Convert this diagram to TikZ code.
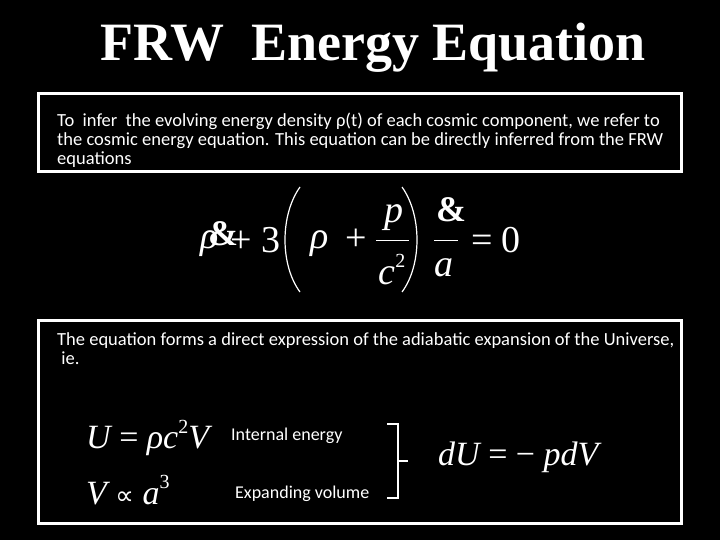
\documentclass[tikz,border=0pt]{standalone}
\usepackage{fontspec}
\setmainfont{Carlito}
\newfontfamily\tfont{Liberation Serif}
\newfontfamily\symfont{DejaVu Sans}
\newfontfamily\titlefont{Liberation Serif}
\newcommand{\sups}[1]{\raisebox{0.45em}{\fontsize{20}{20}\selectfont\upshape #1}}
\begin{document}
\begin{tikzpicture}[x=1pt,y=-1pt,
  box/.style={draw=white,line width=3pt},
  body/.style={text=white,font=\fontsize{18.5}{19}\selectfont,anchor=north west,inner sep=0pt,align=left},
  eq/.style={text=white,inner sep=0pt,font=\tfont\itshape\fontsize{#1}{#1}\selectfont},
  lab/.style={text=white,inner sep=0pt,font=\fontsize{18}{18}\selectfont,anchor=west},
  paren/.style={white,line width=1.2pt}]
\fill[black] (0,0) rectangle (720,540);
\useasboundingbox (0,0) rectangle (720,540);
\node[text=white,font=\titlefont\bfseries\fontsize{54}{56}\selectfont] (title) at (373,48) {FRW\ \ Energy Equation};
\draw[box] (38,94) rectangle (681,172);
\node[body] (p1) at (57,113) {To\ \ infer\ \ the evolving energy density ρ(t) of each cosmic component, we refer to\\the cosmic energy equation. This equation can be directly inferred from the FRW\\equations};
% main equation
\node[eq=38,anchor=west] (rho) at (200,244) {ρ};
\node[eq=36,anchor=west] (amp1) at (208,234) {\upshape\bfseries\&};
\node[eq=38,anchor=west] (pl) at (230,240) {\upshape + 3};
\draw[paren] (300,187) .. controls (280,215) and (280,265) .. (300,292);
\node[eq=38] (rho2) at (320,244) {ρ};
\node[eq=38] (plus2) at (356,240) {\upshape +};
\node[eq=38] (pp) at (394,218) {p};
\draw[white,line width=1pt] (376,240) -- (409,240);
\node[eq=38] (cc) at (392,270) {c\sups{2}};
\draw[paren] (402,187) .. controls (422,215) and (422,265) .. (402,292);
\node[eq=36] (amp) at (451,210) {\upshape\bfseries\&};
\draw[white,line width=1pt] (434,240) -- (458,240);
\node[eq=38] (aa) at (444,268) {a};
\node[eq=38] (eq0) at (496,240) {\upshape = 0};
% second box
\draw[box] (38,320) rectangle (681,523);
\node[body] (p2) at (57,332) {The equation forms a direct expression of the adiabatic expansion of the Universe,\\\ ie.};
\node[eq=34,anchor=west] (U) at (86,438) {U {\upshape =} ρc\sups{2}V};
\node[eq=34,anchor=west] (V) at (86,490) {V {\symfont\upshape\fontsize{26}{26}\selectfont ∝} a\sups{3}};
\node[lab] (ie) at (231,436) {Internal energy};
\node[lab] (ev) at (235,494) {Expanding volume};
\draw[white,line width=2.5pt] (387,424) -- (398,424) -- (398,498) -- (387,498);
\draw[white,line width=2.5pt] (398,461) -- (408,461);
\node[eq=34,anchor=west] (dU) at (438,457) {dU {\upshape = −} pdV};
\end{tikzpicture}
\end{document}
